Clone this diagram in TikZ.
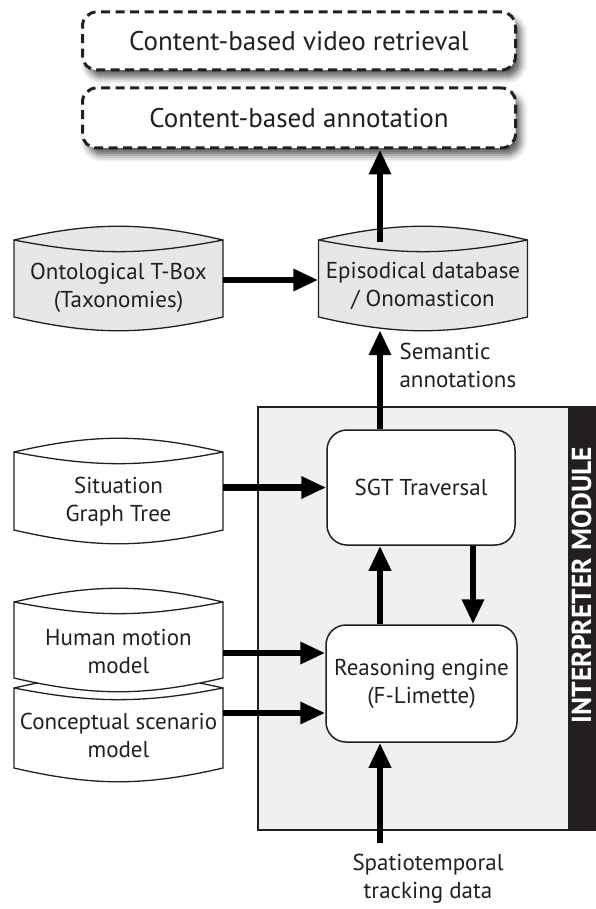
\documentclass[tikz,border=0pt]{standalone}
\usepackage{fontspec}
\setmainfont{PT Sans}
\usetikzlibrary{arrows.meta,shadows.blur}
\definecolor{ink}{HTML}{231F20}
\definecolor{dbgray}{HTML}{E6E7E8}
\definecolor{modgray}{HTML}{EFF0EF}

\tikzset{
  every node/.style={text=ink, font=\fontsize{23}{28}\selectfont, align=center},
  arr/.style={line width=6.5pt, draw=black, -{Triangle[length=25pt,width=21pt]}},
  goalbox/.style={draw=ink, fill=white, line width=3pt, dash pattern=on 9pt off 5.5pt,
    rounded corners=14pt, minimum width=433, minimum height=58,
    font=\fontsize{27}{32}\selectfont,
    blur shadow={shadow xshift=5pt, shadow yshift=-7pt, shadow blur radius=7pt, shadow opacity=65}},
  procbox/.style={draw=ink, fill=white, line width=1.5pt, rounded corners=20pt},
  cylline/.style={draw=ink, line width=1.3pt},
  cyltext/.style={minimum width=209, minimum height=80, inner sep=0pt},
}

% database drum: name, centre x, top corner y, bottom corner y, fill, text centre y, text
\newcommand{\cylinderdb}[7]{%
  \path[cylline, fill=#5] ({#2-104.5},#3) to[bend left=13] ({#2+104.5},#3)
     -- ({#2+104.5},#4) to[bend left=13] ({#2-104.5},#4) -- cycle;
  \draw[cylline] ({#2-104.5},#3) to[bend right=11] ({#2+104.5},#3);
  \node[cyltext] (#1) at (#2,#6) {#7};
}

\begin{document}
\begin{tikzpicture}[x=1pt,y=-1pt]
\useasboundingbox (0,0) rectangle (595,909);

% goals on top
\node[goalbox] (retrieval) at (299,41) {Content-based video retrieval};
\node[goalbox, minimum height=60] (annot) at (299,118) {Content-based annotation};

% knowledge bases
\cylinderdb{onto}{118.5}{240}{317}{dbgray}{288}{Ontological T-Box\\(Taxonomies)}
\cylinderdb{epi}{423}{240}{317}{dbgray}{286}{Episodical database\\/ Onomasticon}
\node[cyltext, minimum height=88] (epiarea) at (423,286) {};
\cylinderdb{sgtdb}{118.5}{452}{530}{white}{502}{Situation\\Graph Tree}
\cylinderdb{concept}{118.5}{688}{768}{white}{735}{Conceptual scenario\\model}
\cylinderdb{human}{118.5}{602}{678}{white}{651}{Human motion\\model}

% interpreter module
\node[draw=ink, fill=modgray, line width=1.3pt, minimum width=337, minimum height=423,
      inner sep=0pt] (interp) at (426.5,618.5) {};
\node[fill=ink, minimum width=27, minimum height=422, inner sep=0pt] (bar) at (581.5,618.5) {};
\node[text=white, rotate=90, inner sep=0pt, font=\fontsize{27.5}{30}\bfseries\selectfont]
  (modlabel) at (581.5,585) {INTERPRETER MODULE};

\node[procbox, minimum width=188, minimum height=115] (trav) at (421,487.5) {SGT Traversal};
\node[procbox, minimum width=191, minimum height=117] (reason) at (421.5,683.5)
  {Reasoning engine\\(F-Limette)};

% labels
\node[anchor=west, align=left] (semlabel) at (396,365) {Semantic\\annotations};
\node (spatio) at (428,879) {Spatiotemporal\\tracking data};
\coordinate (src) at (380,843);
\coordinate (col) at (380,0);
\coordinate (back) at (473,0);

% connectors
\draw[arr] (epiarea.north -| col) -- (annot.south -| col);
\draw[arr] ([yshift=8pt]onto.east) -- ([yshift=8pt]onto.east -| epi.west);
\draw[arr] (trav.north -| col) -- (epiarea.south -| col);
\draw[arr] (sgtdb.east |- trav.west) -- (trav.west);
\draw[arr] (human.east |- 0,653) -- (reason.west |- 0,653);
\draw[arr] (concept.east |- 0,713) -- (reason.west |- 0,713);
\draw[arr] (reason.north -| col) -- (trav.south -| col);
\draw[arr] (trav.south -| back) -- (reason.north -| back);
\draw[arr] (src) -- (reason.south -| src);
\end{tikzpicture}
\end{document}
